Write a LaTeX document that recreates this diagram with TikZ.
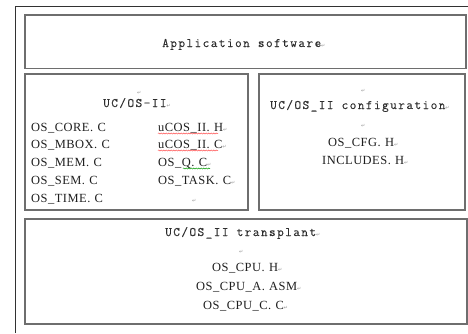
\documentclass[tikz,border=0pt]{standalone}
\usepackage{fontspec}
\usetikzlibrary{decorations.pathmorphing}
\newfontfamily\monof[LetterSpace=11,FakeBold=0.12]{Latin Modern Mono}
\newfontfamily\serf[LetterSpace=4]{Liberation Serif}
\newfontfamily\symf{DejaVu Sans}
\definecolor{boxgray}{RGB}{110,110,110}
\definecolor{framegray}{RGB}{50,50,50}
\definecolor{txt}{RGB}{30,30,30}
\definecolor{monotxt}{RGB}{45,45,45}
\definecolor{pmgray}{RGB}{150,150,150}
\newcommand\parmk{{\symf\fontsize{5}{5}\selectfont\color{pmgray}↵}}
\newcommand\dsp{\hspace{0.35em}}
\tikzset{
  box/.style={draw=boxgray, line width=1.1bp, inner sep=0, outer sep=0},
  mono/.style={font=\monof\fontsize{13}{14}\selectfont, text=monotxt, inner sep=0, anchor=base west},
  file/.style={font=\serf\fontsize{12.5}{13}\selectfont, text=txt, inner sep=0, anchor=base west},
  pm/.style={inner sep=0, anchor=base west},
  spell/.style={decorate, decoration={snake, amplitude=0.5bp, segment length=2.5bp}, line width=0.5bp},
}
\begin{document}
\begin{tikzpicture}[x=1bp,y=-1bp]
\useasboundingbox (0,0) rectangle (468,333);
% outer frame
\coordinate (fb) at (15,333);
\coordinate (ftl) at (15,6);
\coordinate (ftr) at (468,6);
\draw[framegray, line width=1bp] (fb) -- (ftl) -- (ftr);

% boxes
\node[box, minimum width=441bp, minimum height=53.5bp] (app) at (245.5,41.75) {};
\node[box, minimum width=223bp, minimum height=136bp] (ucos) at (136.5,142) {};
\node[box, minimum width=206bp, minimum height=136bp] (conf) at (362,142) {};
\node[box, minimum width=442bp, minimum height=105bp] (port) at (246,271.5) {};

% application
\node[mono] (apptxt) at (162,47) {Application software\parmk};

% UC/OS-II box
\node[pm] (u0) at (137,94) {\parmk};
\node[mono] (utitle) at (103,107) {UC/OS-II\parmk};
\node[file] (l1) at (31,131) {OS\_CORE.\dsp C};
\node[file] (l2) at (31,148) {OS\_MBOX.\dsp C};
\node[file] (l3) at (31,166) {OS\_MEM.\dsp C};
\node[file] (l4) at (31,184) {OS\_SEM.\dsp C};
\node[file] (l5) at (31,202) {OS\_TIME.\dsp C};
\node[file] (r1) at (158,131) {uCOS\_II.\dsp H\parmk};
\node[file] (r2) at (158,148) {uCOS\_II.\dsp C\parmk};
\node[file] (r3) at (158,166) {OS\_Q.\dsp C\parmk};
\node[file] (r4) at (158,184) {OS\_TASK.\dsp C\parmk};
\node[pm] (r5) at (192,202) {\parmk};
\draw[spell, red!70] ([yshift=-2.5bp]r1.base west) -- ++(60,0);
\draw[spell, red!70] ([yshift=-2.5bp]r2.base west) -- ++(60,0);
\draw[spell, green!60!black] ([xshift=25bp,yshift=-2.5bp]r3.base west) -- ++(27,0);

% configuration box
\node[pm] (c0) at (361,92) {\parmk};
\node[mono] (ctitle) at (270,109) {UC/OS\_II configuration\parmk};
\node[pm] (c1) at (361,127) {\parmk};
\node[file] (c2) at (328,146) {OS\_CFG.\dsp H\parmk};
\node[file] (c3) at (322,164) {INCLUDES.\dsp H\parmk};

% transplant box
\node[mono] (ptitle) at (165,236) {UC/OS\_II transplant\parmk};
\node[pm] (p0) at (239,253) {\parmk};
\node[file] (p1) at (212,271) {OS\_CPU.\dsp H\parmk};
\node[file] (p2) at (196,290) {OS\_CPU\_A.\dsp ASM\parmk};
\node[file] (p3) at (203,309) {OS\_CPU\_C.\dsp C\parmk};
\end{tikzpicture}
\end{document}
